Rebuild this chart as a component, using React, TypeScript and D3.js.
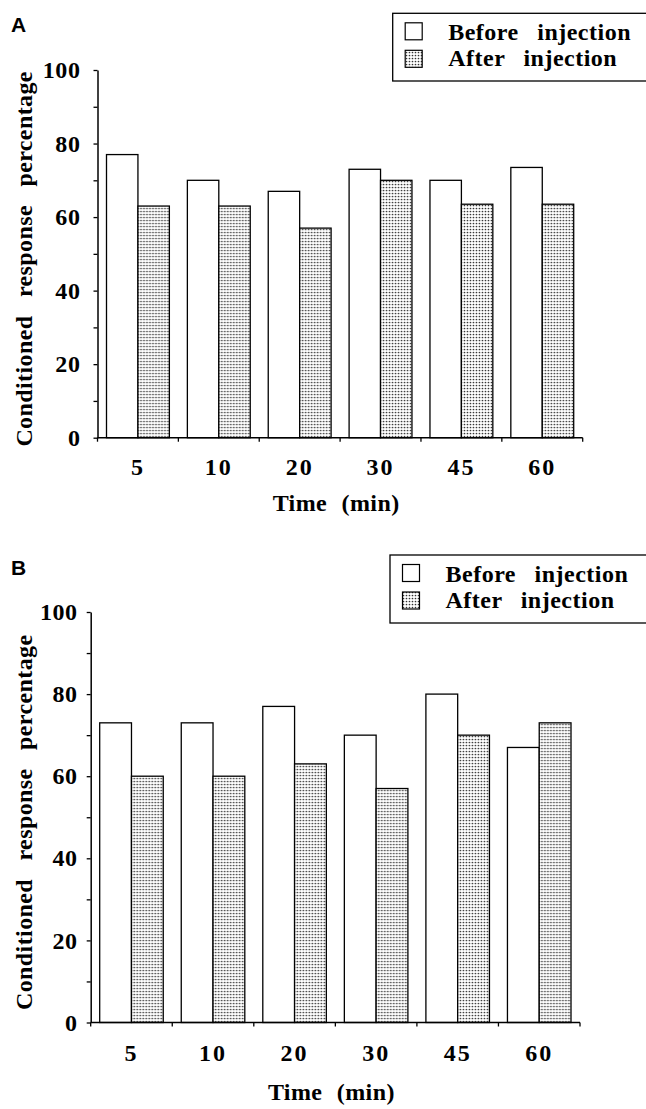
import * as d3 from 'd3';
import * as React from 'react';

// time points (min)
const times = ['5', '10', '20', '30', '45', '60'];
const seriesNames = ['Before injection', 'After injection'];

// panel A values (%)
const beforeA = [77, 70, 67, 73, 70, 73.5];
const afterA = [63, 63, 57, 70, 63.5, 63.5];

// panel B values (%)
const beforeB = [73, 73, 77, 70, 80, 67];
const afterB = [60, 60, 63, 57, 70, 73];

const yTickValues = [0, 10, 20, 30, 40, 50, 60, 70, 80, 90, 100];
const yLabelValues = [0, 20, 40, 60, 80, 100];

const serif = '"Liberation Serif", "Times New Roman", serif';

interface PanelLayout {
    letter: string;
    letterY: number;
    x0: number;
    x1: number;
    yZero: number;
    yTop: number;
    labelGap: number;
    tickLabelY: number;
    titleY: number;
    legendLeft: number;
    legendTop: number;
    legendBottom: number;
}

interface PanelProps {
    layout: PanelLayout;
    before: number[];
    after: number[];
}

const layouts: PanelLayout[] = [
    {
        letter: 'A', letterY: 32, x0: 97.5, x1: 582.7, yZero: 437.7, yTop: 70, labelGap: 17,
        tickLabelY: 475, titleY: 511, legendLeft: 392.7, legendTop: 13.3, legendBottom: 81
    },
    {
        letter: 'B', letterY: 575, x0: 90.7, x1: 580, yZero: 1022.5, yTop: 612, labelGap: 13,
        tickLabelY: 1061, titleY: 1100, legendLeft: 390, legendTop: 555, legendBottom: 623
    }
];

/**
 * One bar chart panel with its axes and legend
 */
const Panel = ({ layout, before, after }: PanelProps) => {
    const yAxisRef = React.useRef<SVGGElement | null>(null);

    const x = d3.scaleBand<string>().domain(times).range([layout.x0, layout.x1]);
    const inner = d3.scaleBand<string>()
        .domain(seriesNames)
        .range([9, x.bandwidth() - 9]);
    const y = d3.scaleLinear().domain([0, 100]).range([layout.yZero, layout.yTop]);

    React.useEffect(() => {
        if (!yAxisRef.current) return;
        const axis = d3.axisLeft(y)
            .tickValues(yTickValues)
            .tickSize(4)
            .tickSizeOuter(0)
            .tickPadding(layout.labelGap - 4)
            .tickFormat(d => (yLabelValues.indexOf(+d) >= 0 ? String(d) : ''));
        const g = d3.select(yAxisRef.current);
        g.call(axis);
        g.select('.domain').attr('stroke', '#000').attr('stroke-width', 1.5);
        g.selectAll('.tick line').attr('stroke', '#000').attr('stroke-width', 1.3);
        g.selectAll('.tick text')
            .attr('fill', '#000')
            .attr('font-family', serif)
            .attr('font-weight', 'bold')
            .attr('font-size', 24)
            .attr('letter-spacing', 0.6);
    }, []);

    const edges = times.map(t => x(t) as number).concat([layout.x1]);
    const midY = (layout.yZero + layout.yTop) / 2;
    const rows = [before, after];

    return (
        <g>
            <text x={11} y={layout.letterY} fontFamily='"Liberation Sans", Arial, sans-serif'
                fontWeight="bold" fontSize={21}>{layout.letter}</text>

            {times.map((t, i) => (
                <g key={t} transform={`translate(${x(t)},0)`}>
                    {seriesNames.map((s, k) => (
                        <rect key={s}
                            x={inner(s)}
                            y={y(rows[k][i])}
                            width={inner.bandwidth()}
                            height={y(0) - y(rows[k][i])}
                            fill={k === 0 ? '#fff' : 'url(#dots)'}
                            stroke="#000"
                            strokeWidth={1.3} />
                    ))}
                </g>
            ))}

            <g ref={yAxisRef} transform={`translate(${layout.x0},0)`} />

            <line x1={layout.x0} x2={layout.x1} y1={y(0)} y2={y(0)} stroke="#000" strokeWidth={1.5} />
            {edges.map((e, i) => (
                <line key={i} x1={e} x2={e} y1={y(0)} y2={y(0) + 4} stroke="#000" strokeWidth={1.3} />
            ))}
            {times.map(t => (
                <text key={t} x={(x(t) as number) + x.bandwidth() / 2} y={layout.tickLabelY}
                    textAnchor="middle" fontFamily={serif} fontWeight="bold" fontSize={24}
                    letterSpacing={2}>{t}</text>
            ))}

            <text x={(layout.x0 + layout.x1) / 2 - 4} y={layout.titleY} textAnchor="middle"
                fontFamily={serif} fontWeight="bold" fontSize={24} wordSpacing={8}
                letterSpacing={0.4}>Time (min)</text>

            <text transform={`translate(32,${midY + 5}) rotate(-90)`} textAnchor="middle"
                fontFamily={serif} fontWeight="bold" fontSize={24} wordSpacing={12}
                letterSpacing={0.4}>
                Conditioned response percentage
            </text>

            <rect x={layout.legendLeft} y={layout.legendTop} width={270}
                height={layout.legendBottom - layout.legendTop}
                fill="#fff" stroke="#000" strokeWidth={1.3} />
            {seriesNames.map((s, k) => (
                <g key={s}>
                    <rect x={layout.legendLeft + 12.5} y={layout.legendTop + 9.5 + k * 27.5}
                        width={17} height={17}
                        fill={k === 0 ? '#fff' : 'url(#dots)'} stroke="#000" strokeWidth={1.2} />
                    <text x={layout.legendLeft + 55.5} y={layout.legendTop + 26.5 + k * 26}
                        fontFamily={serif} fontWeight="bold" fontSize={24} wordSpacing={12}
                        letterSpacing={0.5}>{s}</text>
                </g>
            ))}
        </g>
    );
};

export default function App() {
    const panelData = [[beforeA, afterA], [beforeB, afterB]];
    return (
        <svg width={646} height={1109}
            style={{ position: 'absolute', left: 0, top: 0, display: 'block', background: '#fff' }}>
            <defs>
                <pattern id="dots" width={3} height={3} patternUnits="userSpaceOnUse">
                    <rect width={3} height={3} fill="#fff" />
                    <circle cx={1.5} cy={1.5} r={0.85} fill="#333" />
                </pattern>
            </defs>
            {layouts.map((l, i) => (
                <Panel key={l.letter} layout={l} before={panelData[i][0]} after={panelData[i][1]} />
            ))}
        </svg>
    );
}
